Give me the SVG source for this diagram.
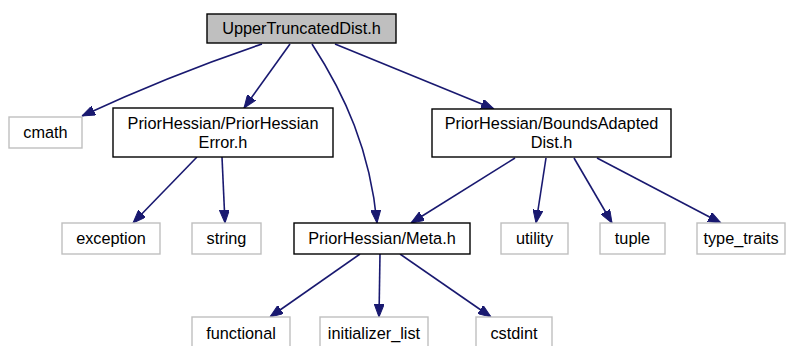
<svg xmlns="http://www.w3.org/2000/svg" width="787" height="346" viewBox="0 0 787 346">
<style>
text{font-family:"Liberation Sans",Arial,Helvetica,sans-serif;font-size:16.3px;fill:#000;text-anchor:middle}
.ext{fill:#fff;stroke:#bfbfbf;stroke-width:1.4}
.int{fill:#fff;stroke:#000;stroke-width:1.4}
.top{fill:#bfbfbf;stroke:#000;stroke-width:1.4}
.e{fill:none;stroke:#191970;stroke-width:1.6}
</style>
<defs>
<marker id="ah" viewBox="0 0 13 10" refX="13" refY="5" markerWidth="13" markerHeight="10" markerUnits="userSpaceOnUse" orient="auto">
<path d="M0,0 L13,5 L0,10 z" fill="#191970" stroke="#191970"/>
</marker>
</defs>
<rect width="787" height="346" fill="#fff"/>
<g id="connectors">
<path class="e" marker-end="url(#ah)" d="M262,44 Q170,75 82,116"/>
<path class="e" marker-end="url(#ah)" d="M290,44 L244,108"/>
<path class="e" marker-end="url(#ah)" d="M312,44 C345,95 370,150 377,223"/>
<path class="e" marker-end="url(#ah)" d="M335,44 L494,109"/>
<path class="e" marker-end="url(#ah)" d="M197,157 L133,223"/>
<path class="e" marker-end="url(#ah)" d="M222,157 L225,223"/>
<path class="e" marker-end="url(#ah)" d="M515,158 L411,223"/>
<path class="e" marker-end="url(#ah)" d="M546,158 L536,223"/>
<path class="e" marker-end="url(#ah)" d="M574,158 L612,223"/>
<path class="e" marker-end="url(#ah)" d="M597,158 L721,223"/>
<path class="e" marker-end="url(#ah)" d="M360,254 L270,317"/>
<path class="e" marker-end="url(#ah)" d="M380,254 L379,317"/>
<path class="e" marker-end="url(#ah)" d="M400,254 L491,317"/>
</g>
<g id="node-top"><rect class="top" x="207" y="14" width="189" height="29"/><text x="301.5" y="34">UpperTruncatedDist.h</text></g>
<g id="node-cmath"><rect class="ext" x="9" y="117" width="73" height="31"/><text x="45.5" y="138">cmath</text></g>
<g id="node-error"><rect class="int" x="113" y="108" width="220" height="49"/><text x="223" y="129">PriorHessian/PriorHessian</text><text x="223" y="148">Error.h</text></g>
<g id="node-bounds"><rect class="int" x="432" y="109" width="239" height="48"/><text x="551.5" y="129">PriorHessian/BoundsAdapted</text><text x="551.5" y="148">Dist.h</text></g>
<g id="node-exception"><rect class="ext" x="62" y="223" width="98" height="31"/><text x="111" y="244">exception</text></g>
<g id="node-string"><rect class="ext" x="192" y="223" width="69" height="31"/><text x="226.5" y="244">string</text></g>
<g id="node-meta"><rect class="int" x="294" y="223" width="176" height="31"/><text x="382" y="244">PriorHessian/Meta.h</text></g>
<g id="node-utility"><rect class="ext" x="501" y="223" width="67" height="31"/><text x="534.5" y="244">utility</text></g>
<g id="node-tuple"><rect class="ext" x="600" y="223" width="65" height="31"/><text x="632.5" y="244">tuple</text></g>
<g id="node-type_traits"><rect class="ext" x="697" y="223" width="88" height="31"/><text x="741" y="244">type_traits</text></g>
<g id="node-functional"><rect class="ext" x="192" y="317" width="98" height="31"/><text x="241" y="339">functional</text></g>
<g id="node-initializer_list"><rect class="ext" x="320" y="317" width="108" height="31"/><text x="374" y="339">initializer_list</text></g>
<g id="node-cstdint"><rect class="ext" x="476" y="317" width="76" height="31"/><text x="514" y="339">cstdint</text></g>
</svg>
